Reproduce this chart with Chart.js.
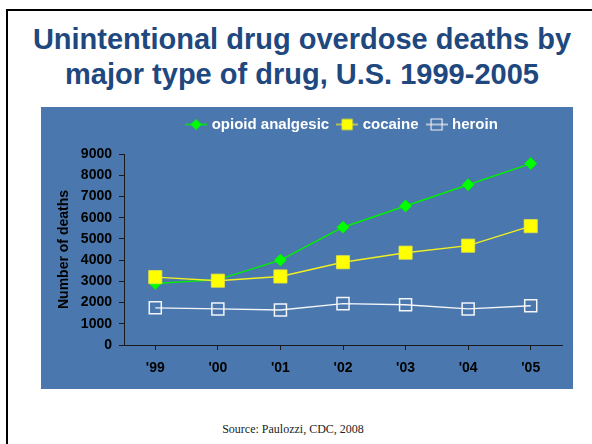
<!DOCTYPE html>
<html>
<head>
<meta charset="utf-8">
<script src="https://cdn.jsdelivr.net/npm/chart.js@4.4.0/dist/chart.umd.min.js"></script>
<style>
  html, body { margin: 0; padding: 0; background: #fff; }
  body { width: 592px; height: 444px; overflow: hidden; position: relative; font-family: "Liberation Sans", Arial, sans-serif; }
  #frame { position: absolute; left: 6px; top: 9px; width: 700px; height: 600px; border: 2px solid #000; }
  #title { position: absolute; left: 0; top: 22px; width: 604px; text-align: center; font-weight: bold; font-size: 29px; line-height: 35px; color: #20487f; }
  #panel { position: absolute; left: 41px; top: 107px; width: 532px; height: 282px; background: #4a77ad; }
  #source { position: absolute; left: 0; top: 422px; width: 586px; text-align: center; font-family: "Liberation Serif", "Times New Roman", serif; font-size: 12px; line-height: 14px; color: #222; }
</style>
</head>
<body>
<div id="frame"></div>
<div id="title">Unintentional drug overdose deaths by<br>major type of drug, U.S. 1999-2005</div>
<div id="panel"><canvas id="myChart" width="532" height="282"></canvas></div>
<div id="source">Source: Paulozzi, CDC, 2008</div>

<script>
var years = ["'99", "'00", "'01", "'02", "'03", "'04", "'05"];
var seriesNames = ["opioid analgesic", "cocaine", "heroin"];
var opioid = [2900, 3080, 4000, 5550, 6550, 7550, 8550];
var cocaine = [3200, 3030, 3230, 3900, 4350, 4680, 5600];
var heroin = [1750, 1700, 1650, 1950, 1900, 1700, 1850];
var yTicks = [0, 1000, 2000, 3000, 4000, 5000, 6000, 7000, 8000, 9000];

// little line + marker pictures for the legend
function legendIcon(lineColor, fill, border, shape) {
  var c = document.createElement('canvas');
  c.width = 22;
  c.height = 14;
  var g = c.getContext('2d');
  g.strokeStyle = lineColor;
  g.lineWidth = 1.5;
  g.beginPath();
  g.moveTo(0, 7);
  g.lineTo(22, 7);
  g.stroke();
  g.beginPath();
  if (shape == 'diamond') {
    g.moveTo(11, 1.5); g.lineTo(16.5, 7); g.lineTo(11, 12.5); g.lineTo(5.5, 7);
    g.closePath();
  } else {
    g.rect(5.5, 1.5, 11, 11);
  }
  if (fill) { g.fillStyle = fill; g.fill(); }
  if (border) { g.strokeStyle = border; g.lineWidth = 1.2; g.stroke(); }
  return c;
}

var icons = [
  legendIcon('#00ee00', '#00ff00', null, 'diamond'),
  legendIcon('#d8d840', '#ffff00', null, 'rect'),
  legendIcon('#d8dde8', null, '#eef0f4', 'rect')
];

var ctx = document.getElementById('myChart');

var data = {
  labels: years,
  datasets: [
    {
      label: seriesNames[0],
      data: opioid,
      order: 3,
      borderColor: '#00f000',
      borderWidth: 1.4,
      pointStyle: 'rectRot',
      pointRadius: 6.2,
      pointBackgroundColor: '#00ff00',
      pointBorderColor: '#00e000',
      pointBorderWidth: 0.5
    },
    {
      label: seriesNames[1],
      data: cocaine,
      order: 2,
      borderColor: '#f0f020',
      borderWidth: 1.4,
      pointStyle: 'rect',
      pointRadius: 9.3,
      pointBackgroundColor: '#ffff00',
      pointBorderColor: '#e6e640',
      pointBorderWidth: 0.8
    },
    {
      label: seriesNames[2],
      data: heroin,
      order: 1,
      borderColor: '#f4f6fa',
      borderWidth: 1.4,
      pointStyle: 'rect',
      pointRadius: 8.5,
      pointBackgroundColor: 'rgba(0,0,0,0)',
      pointBorderColor: '#f4f6fa',
      pointBorderWidth: 1.5
    }
  ]
};

var options = {
  responsive: false,
  animation: false,
  layout: { padding: { top: 0, right: 11, bottom: 0, left: 0 } },
  plugins: {
    tooltip: { enabled: false },
    // empty subtitle used as a spacer between legend and plot
    subtitle: {
      display: true,
      text: '',
      weight: 500,
      padding: 0,
      font: { size: 10, lineHeight: 1.2 }
    },
    legend: {
      position: 'top',
      fullSize: false,
      labels: {
        usePointStyle: true,
        pointStyleWidth: 16,
        padding: 10,
        color: '#ffffff',
        font: { family: 'Liberation Sans', size: 15, weight: 'bold' },
        generateLabels: function(chart) {
          return chart.data.datasets.map(function(ds, i) {
            return {
              text: ds.label,
              pointStyle: icons[i],
              fontColor: '#ffffff',
              fillStyle: 'transparent',
              strokeStyle: 'transparent',
              lineWidth: 0,
              hidden: !chart.isDatasetVisible(i),
              datasetIndex: i
            };
          });
        }
      }
    }
  },
  scales: {
    x: {
      offset: true,
      grid: { drawOnChartArea: false, tickLength: 5, color: '#1a1a1a', tickColor: '#1a1a1a' },
      border: { color: '#1a1a1a', width: 1 },
      ticks: { color: '#000', padding: 10, font: { family: 'Liberation Sans', size: 14, weight: 'bold' } },
      afterFit: function(scale) { scale.height = 44; }
    },
    y: {
      min: 0,
      max: 9000,
      grid: { drawOnChartArea: false, tickLength: 5, color: '#1a1a1a', tickColor: '#1a1a1a' },
      border: { color: '#1a1a1a', width: 1 },
      afterBuildTicks: function(scale) {
        scale.ticks = yTicks.map(function(v) { return { value: v }; });
      },
      ticks: {
        color: '#000',
        padding: 7,
        font: { family: 'Liberation Sans', size: 14, weight: 'bold' },
        callback: function(value) { return String(value); }
      },
      title: {
        display: true,
        text: 'Number of deaths',
        color: '#000',
        padding: { top: 15, bottom: 0 },
        font: { family: 'Liberation Sans', size: 14, weight: 'bold' }
      },
      afterFit: function(scale) { scale.width = 83; }
    }
  }
};

var myLineChart = new Chart(ctx, {
  type: 'line',
  data: data,
  options: options
});
</script>
</body>
</html>
